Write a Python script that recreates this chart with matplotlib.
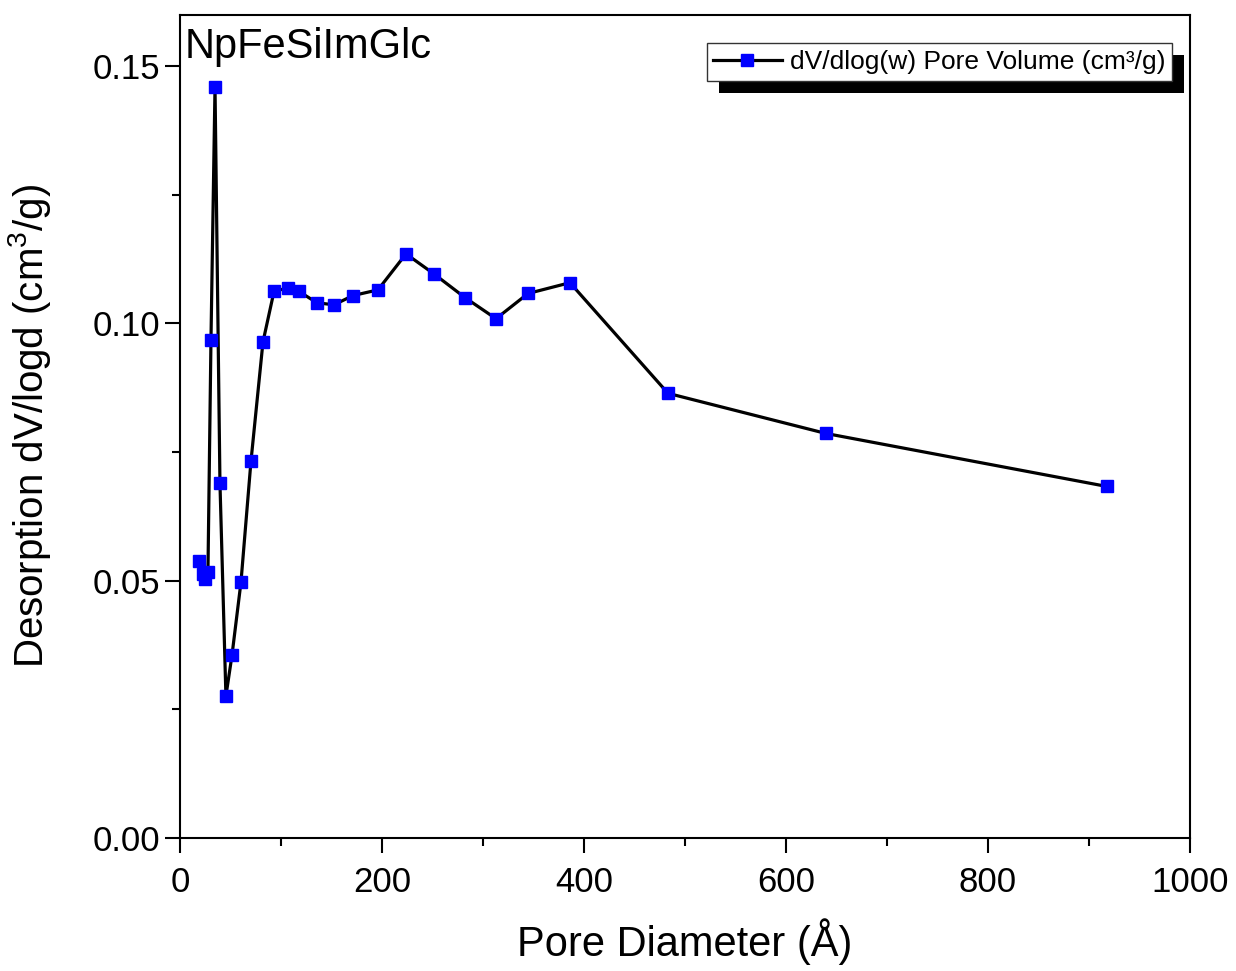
import numpy as np
import matplotlib
matplotlib.use("Agg")
import matplotlib.pyplot as plt
from matplotlib.patches import Rectangle

plt.rcParams['font.family'] = ['Liberation Sans', 'DejaVu Sans']
plt.rcParams['mathtext.fontset'] = 'custom'
plt.rcParams['mathtext.rm'] = 'Liberation Sans'

# pore diameter (A) and desorption dV/logd (cm3/g)
pore_diam = [18.8, 22.5, 24.8, 27.7, 30.7, 34.7, 39.6, 45.5, 51.5, 60.4,
             70.3, 82.2, 93.1, 106.9, 117.8, 135.6, 152.5, 171.3, 196.0,
             223.8, 251.5, 282.2, 312.9, 344.6, 386.1, 483.2, 639.6, 917.8]
dv_logd = [0.0539, 0.0512, 0.0503, 0.0516, 0.0968, 0.1459, 0.0689, 0.0276,
           0.0355, 0.0497, 0.0732, 0.0964, 0.1062, 0.1069, 0.1062, 0.1040,
           0.1036, 0.1054, 0.1065, 0.1135, 0.1096, 0.1050, 0.1009, 0.1058,
           0.1079, 0.0864, 0.0786, 0.0683]

fig = plt.figure(figsize=(12.36, 9.71), dpi=100)
ax = fig.add_axes([0.1456, 0.137, 0.8172, 0.848])

ax.plot(pore_diam, dv_logd, color='black', lw=2.3, marker='s', ms=8.5,
        mfc='#0000ff', mec='#0000ff', label='dV/dlog(w) Pore Volume (cm³/g)')

ax.set_xlim(0, 1000)
ax.set_ylim(0, 0.16)
ax.set_xticks(np.arange(0, 1001, 200))
ax.set_xticks(np.arange(100, 1000, 200), minor=True)
ax.set_yticks([0, 0.05, 0.10, 0.15])
ax.set_yticklabels(['0.00', '0.05', '0.10', '0.15'])
ax.set_yticks([0.025, 0.075, 0.125], minor=True)
ax.tick_params(which='major', direction='out', length=11, width=1.5, labelsize=25)
ax.tick_params(axis='x', which='major', pad=9)
ax.tick_params(which='minor', direction='out', length=6, width=1.5)
for s in ax.spines.values():
    s.set_linewidth(1.5)

ax.set_xlabel('Pore Diameter (Å)', fontsize=30, labelpad=14)
ax.set_ylabel('Desorption dV/logd (cm$^3$/g)', fontsize=29, labelpad=28)
ax.text(0.005, 0.985, 'NpFeSiImGlc', transform=ax.transAxes, fontsize=30,
        ha='left', va='top')

leg = ax.legend(loc='upper right', bbox_to_anchor=(0.995, 0.981), fontsize=19,
                frameon=True, fancybox=False, framealpha=1, edgecolor='#333333',
                handlelength=2.6, borderpad=0.25, handletextpad=0.3)
leg.get_frame().set_linewidth(1.0)
leg.set_zorder(5)

fig.canvas.draw()
bb = leg.get_window_extent()
shadow = Rectangle((bb.x0 + 12, bb.y0 - 12), bb.width, bb.height,
                   transform=None, facecolor='black', edgecolor='none', zorder=4)
ax.add_artist(shadow)

fig.savefig('out.png', dpi=100)
